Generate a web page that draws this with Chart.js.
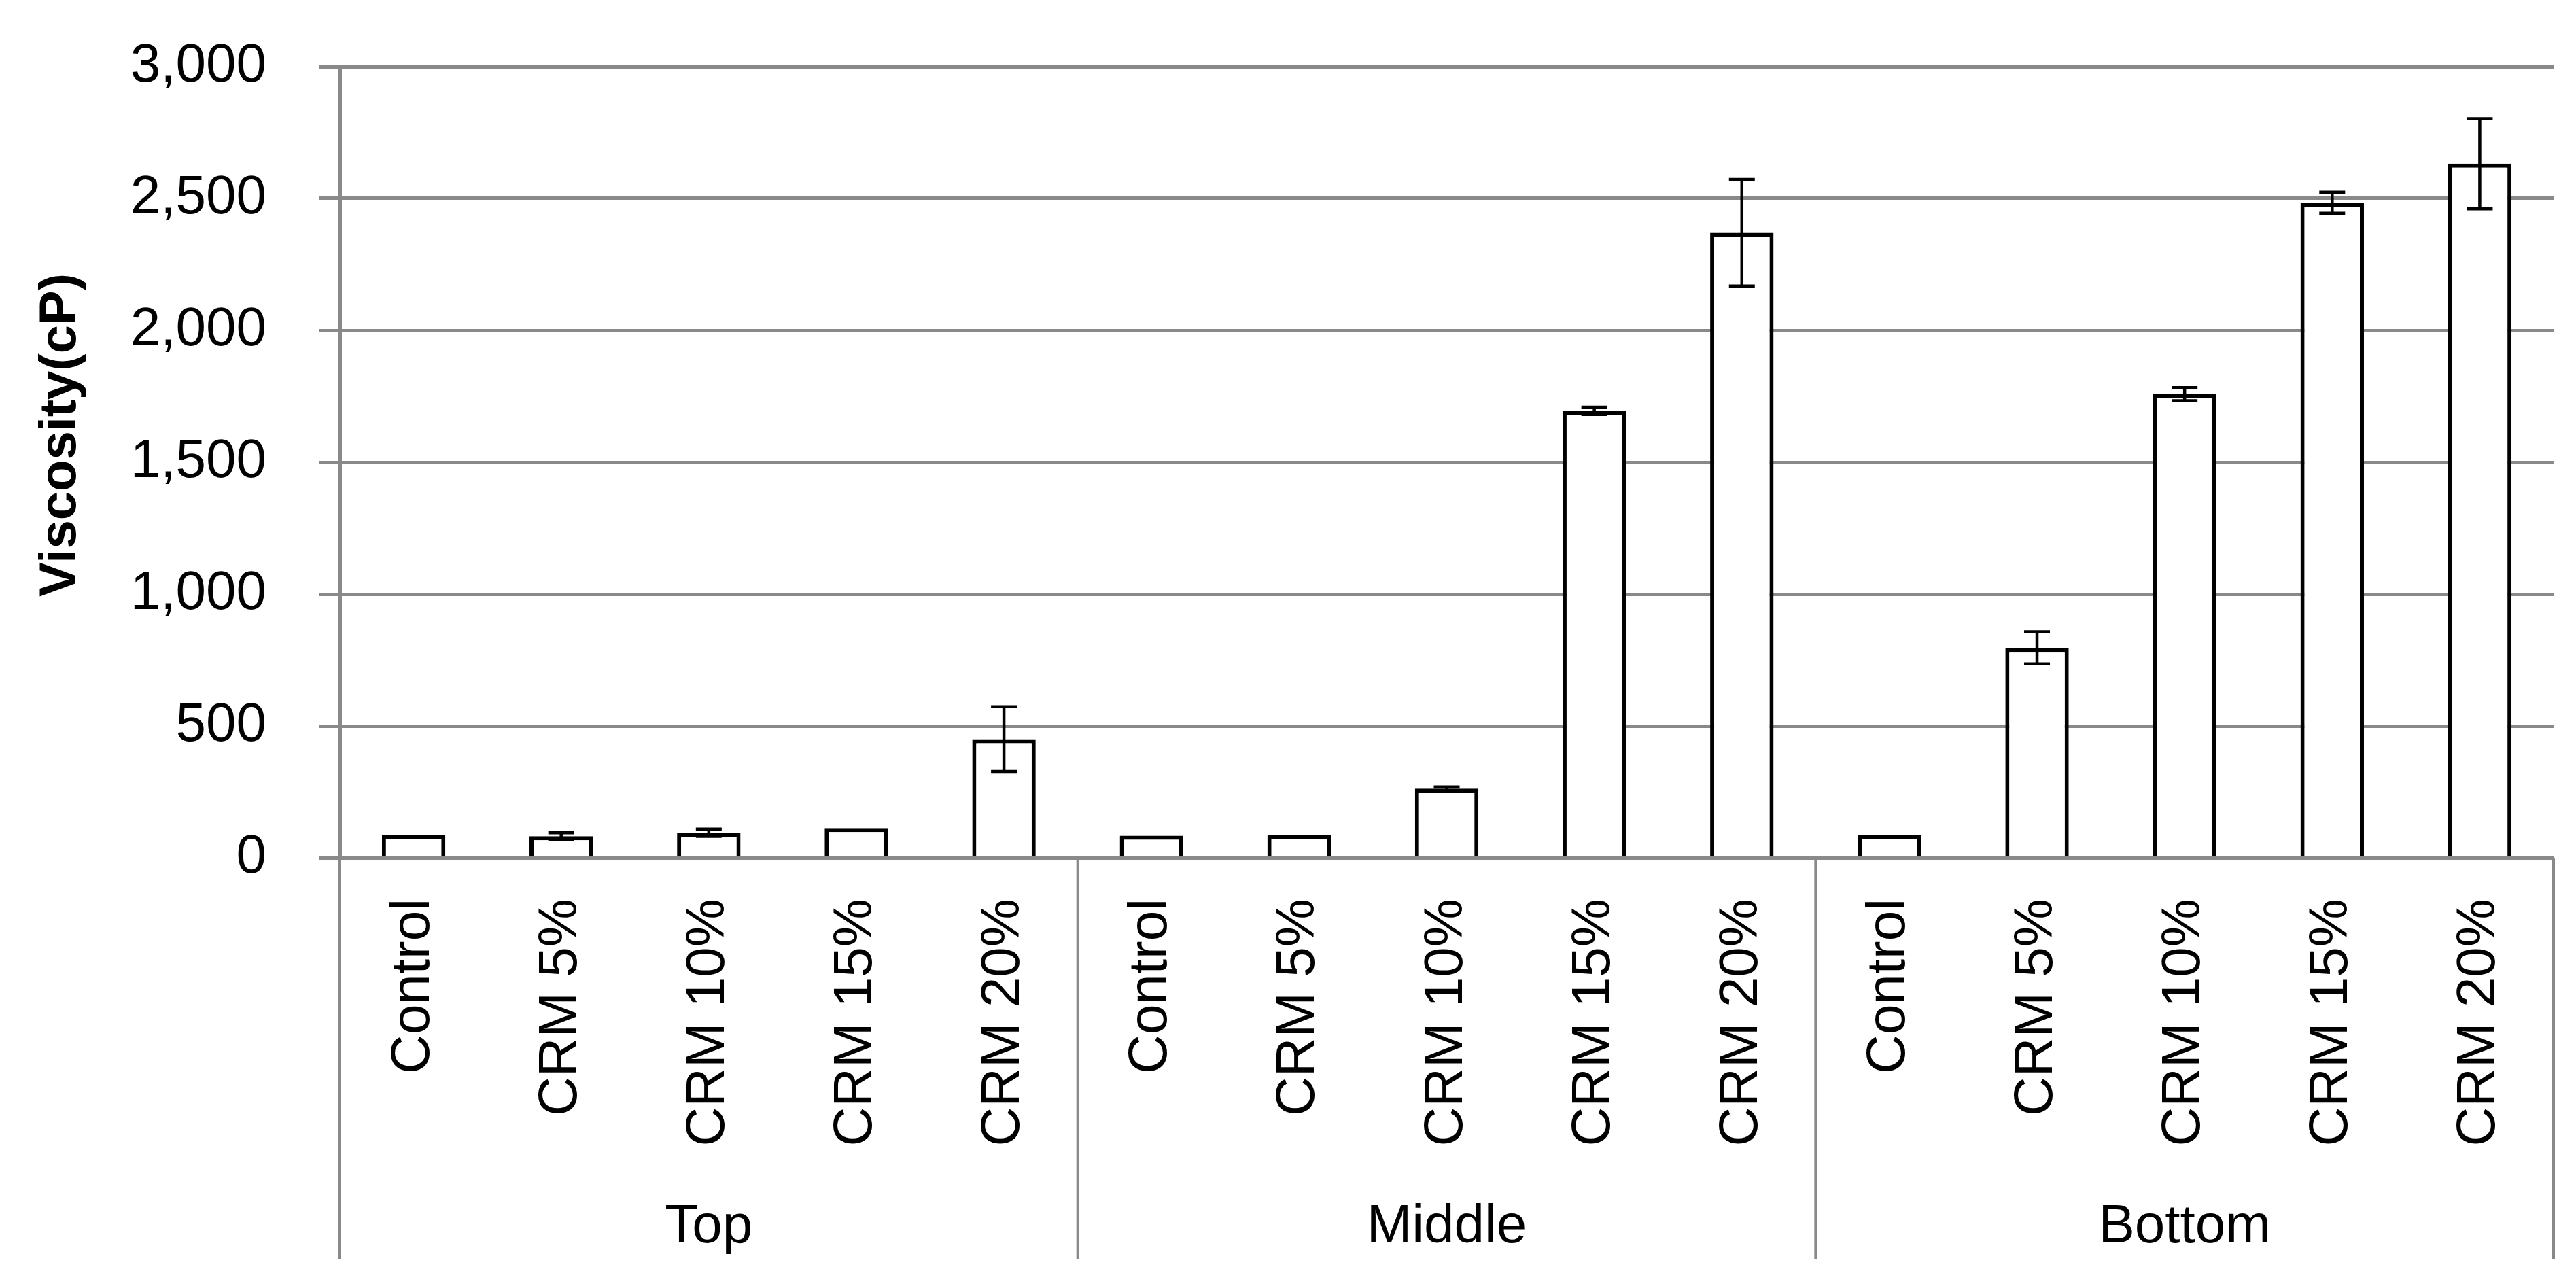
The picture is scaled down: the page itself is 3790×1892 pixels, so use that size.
<!DOCTYPE html>
<html>
<head>
<meta charset="utf-8">
<title>Viscosity</title>
<script src="https://cdn.jsdelivr.net/npm/chart.js@4.4.0/dist/chart.umd.min.js"></script>
<style>
    html, body { margin: 0; padding: 0; background: #ffffff; }
    #wrap { width: 3790px; height: 1892px; }
</style>
</head>
<body>
<div id="wrap"><canvas id="viscosityChart" width="3790" height="1892"></canvas></div>
<script>
// data
const groups = ['Top', 'Middle', 'Bottom'];
const mixes = ['Control', 'CRM 5%', 'CRM 10%', 'CRM 15%', 'CRM 20%'];
const viscosity = [86, 82, 95, 113, 450, 84, 86, 262, 1695, 2370, 86, 796, 1758, 2484, 2632];
const viscosityErr = [0, 13, 14, 0, 123, 0, 0, 7, 14, 202, 0, 61, 25, 40, 171];
const yTicks = [0, 500, 1000, 1500, 2000, 2500, 3000];
const yTitle = 'Viscosity(cP)';

const labels = [];
groups.forEach(function () {
    mixes.forEach(function (m) { labels.push(m); });
});

const gridGray = '#898989';
const fontFamily = '"Liberation Sans", Arial, sans-serif';

// error bars (+/-) drawn through the scales
const errorBarPlugin = {
    id: 'errorBars',
    afterDatasetsDraw(chart) {
        const ctx = chart.ctx;
        const xs = chart.scales.x;
        const ys = chart.scales.y;
        ctx.save();
        ctx.strokeStyle = '#000000';
        ctx.lineWidth = 4.5;
        for (let i = 0; i < viscosity.length; i++) {
            const e = viscosityErr[i];
            if (!e) continue;
            const x = xs.getPixelForValue(i);
            const yHi = ys.getPixelForValue(viscosity[i] + e);
            const yLo = ys.getPixelForValue(viscosity[i] - e);
            ctx.beginPath();
            ctx.moveTo(x, yHi);
            ctx.lineTo(x, yLo);
            ctx.moveTo(x - 19, yHi);
            ctx.lineTo(x + 19, yHi);
            ctx.moveTo(x - 19, yLo);
            ctx.lineTo(x + 19, yLo);
            ctx.stroke();
        }
        ctx.restore();
    }
};

// second level of the category axis + y title
const groupAxisPlugin = {
    id: 'groupAxis',
    afterDraw(chart) {
        const ctx = chart.ctx;
        const xs = chart.scales.x;
        const area = chart.chartArea;
        const n = mixes.length;
        const lineBottom = area.bottom + 590;
        ctx.save();
        ctx.strokeStyle = gridGray;
        ctx.lineWidth = 4;
        const edges = [area.left];
        for (let g = 1; g < groups.length; g++) {
            edges.push((xs.getPixelForValue(g * n - 1) + xs.getPixelForValue(g * n)) / 2);
        }
        edges.push(area.right);
        edges.forEach(function (x) {
            ctx.beginPath();
            ctx.moveTo(x, area.bottom);
            ctx.lineTo(x, lineBottom);
            ctx.stroke();
        });

        ctx.fillStyle = '#000000';
        ctx.font = '80px ' + fontFamily;
        ctx.textAlign = 'center';
        ctx.textBaseline = 'alphabetic';
        groups.forEach(function (name, g) {
            const cx = (xs.getPixelForValue(g * n) + xs.getPixelForValue(g * n + n - 1)) / 2;
            ctx.fillText(name, cx, area.bottom + 566);
        });

        // y axis title
        ctx.translate(90, 640);
        ctx.rotate(-Math.PI / 2);
        ctx.font = 'bold 76px ' + fontFamily;
        ctx.textBaseline = 'middle';
        ctx.fillText(yTitle, 0, 0);
        ctx.restore();
    }
};

new Chart(document.getElementById('viscosityChart').getContext('2d'), {
    type: 'bar',
    data: {
        labels: labels,
        datasets: [{
            label: 'Viscosity',
            data: viscosity,
            backgroundColor: '#ffffff',
            borderColor: '#000000',
            borderWidth: 6,
            barPercentage: 0.43,
            categoryPercentage: 1.0
        }]
    },
    options: {
        responsive: false,
        animation: false,
        devicePixelRatio: 1,
        layout: {
            padding: { top: 98, right: 33, left: 0, bottom: 0 }
        },
        plugins: {
            legend: { display: false },
            tooltip: { enabled: false }
        },
        scales: {
            x: {
                z: 1,
                grid: { display: false, drawOnChartArea: false, drawTicks: false },
                border: { display: true, color: gridGray, width: 5 },
                ticks: {
                    autoSkip: false,
                    minRotation: 90,
                    maxRotation: 90,
                    padding: 60,
                    color: '#000000',
                    font: { family: fontFamily, size: 80 }
                },
                afterFit: function (scale) {
                    // fixed band for the two label rows
                    scale.height = 630;
                    scale.paddingLeft = 0;
                    scale.paddingRight = 0;
                }
            },
            y: {
                min: yTicks[0],
                max: yTicks[yTicks.length - 1],
                ticks: {
                    stepSize: 500,
                    padding: 78,
                    color: '#000000',
                    font: { family: fontFamily, size: 80 },
                    callback: function (v) { return Number(v).toLocaleString('en-US'); }
                },
                grid: { color: gridGray, lineWidth: 5, tickLength: 30, drawTicks: true },
                border: { display: true, color: gridGray, width: 5 },
                afterFit: function (scale) {
                    scale.width = 500;
                    scale.paddingTop = 0;
                    scale.paddingBottom = 0;
                }
            }
        }
    },
    plugins: [errorBarPlugin, groupAxisPlugin]
});
</script>
</body>
</html>
